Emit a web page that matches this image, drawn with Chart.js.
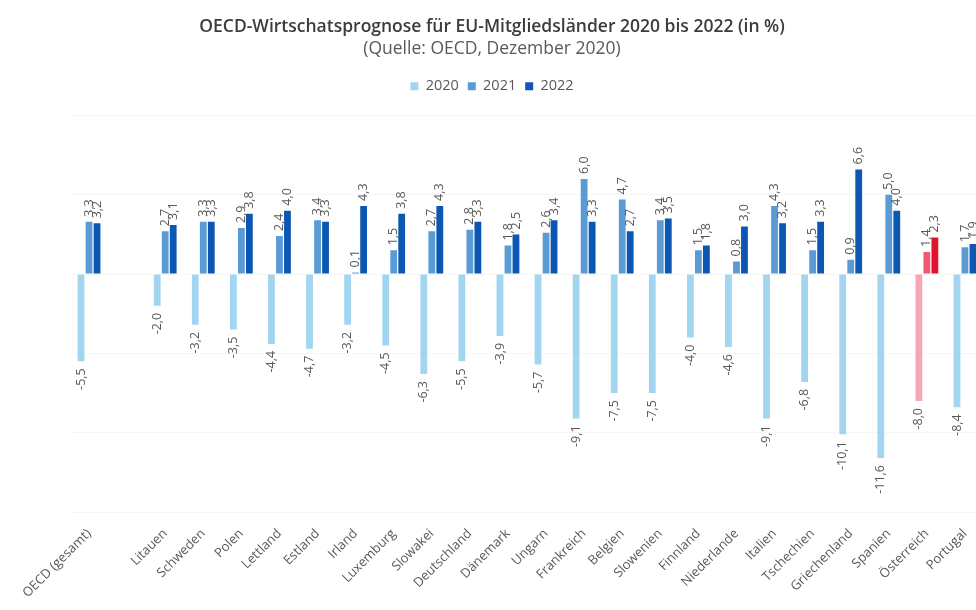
<!DOCTYPE html>
<html lang="de">
<head>
<meta charset="utf-8">
<title>OECD-Wirtschaftsprognose EU 2020-2022</title>
<script src="https://cdn.jsdelivr.net/npm/chart.js@4.4.1/dist/chart.umd.min.js"></script>
<style>
  html, body { margin: 0; padding: 0; background: #fff; overflow: hidden; }
  #wrap { width: 984px; height: 610px; }
</style>
</head>
<body>
<div id="wrap"><canvas id="chart"></canvas></div>
<script>
/* ── Data ── */
const COUNTRIES = [
  'OECD (gesamt)', '', 'Litauen', 'Schweden', 'Polen', 'Lettland', 'Estland',
  'Irland', 'Luxemburg', 'Slowakei', 'Deutschland', 'Dänemark', 'Ungarn',
  'Frankreich', 'Belgien', 'Slowenien', 'Finnland', 'Niederlande', 'Italien',
  'Tschechien', 'Griechenland', 'Spanien', 'Österreich', 'Portugal'
];
const GDP_2020 = [-5.5, null, -2.0, -3.2, -3.5, -4.4, -4.7, -3.2, -4.5, -6.3, -5.5, -3.9, -5.7,
  -9.1, -7.5, -7.5, -4.0, -4.6, -9.1, -6.8, -10.1, -11.6, -8.0, -8.4];
const GDP_2021 = [3.3, null, 2.7, 3.3, 2.9, 2.4, 3.4, 0.1, 1.5, 2.7, 2.8, 1.8, 2.6,
  6.0, 4.7, 3.4, 1.5, 0.8, 4.3, 1.5, 0.9, 5.0, 1.4, 1.7];
const GDP_2022 = [3.2, null, 3.1, 3.3, 3.8, 4.0, 3.3, 4.3, 3.8, 4.3, 3.3, 2.5, 3.4,
  3.3, 2.7, 3.5, 1.8, 3.0, 3.2, 3.3, 6.6, 4.0, 2.3, 1.9];
const YEARS = ['2020', '2021', '2022'];
const HIGHLIGHT = 'Österreich';

// blue palette, Austria drawn in red tones
const BLUES = ['#a2d5ef', '#5b9bd5', '#0b57b3'];
const REDS = ['#f6a7b6', '#f2586f', '#e2122e'];

const colorsFor = (k) => COUNTRIES.map(c => (c === HIGHLIGHT ? REDS[k] : BLUES[k]));

const FONT = '"Open Sans", "DejaVu Sans", sans-serif';
const TEXT = '#595959';

/* value labels, rotated 90°, German decimal comma */
const valueLabels = {
  id: 'valueLabels',
  afterDatasetsDraw(chart) {
    const { ctx } = chart;
    ctx.save();
    ctx.font = '12.5px ' + FONT;
    ctx.fillStyle = TEXT;
    ctx.textBaseline = 'middle';
    chart.data.datasets.forEach((ds, i) => {
      chart.getDatasetMeta(i).data.forEach((bar, j) => {
        const v = ds.data[j];
        if (v == null) return;
        const txt = v.toFixed(1).replace('.', ',');
        ctx.save();
        ctx.translate(bar.x, bar.y + (v < 0 ? 7 : -5));
        ctx.rotate(-Math.PI / 2);
        ctx.textAlign = v < 0 ? 'right' : 'left';
        ctx.fillText(txt, 0, 0);
        ctx.restore();
      });
    });
    ctx.restore();
  }
};

// extra room under the legend
const legendGap = {
  id: 'legendGap',
  beforeInit(chart) {
    const fit = chart.legend.fit;
    chart.legend.fit = function () {
      fit.bind(chart.legend)();
      this.height += 12;
    };
  }
};

new Chart(document.getElementById('chart'), {
  type: 'bar',
  data: {
    labels: COUNTRIES,
    datasets: [GDP_2020, GDP_2021, GDP_2022].map((data, k) => ({
      label: YEARS[k],
      data,
      backgroundColor: colorsFor(k),
      borderWidth: 0,
      categoryPercentage: 0.63,
      barPercentage: 0.85,
    })),
  },
  options: {
    responsive: true,
    maintainAspectRatio: false,
    animation: false,
    layout: { padding: 0 },
    plugins: {
      title: {
        display: true,
        text: 'OECD-Wirtschatsprognose für EU-Mitgliedsländer 2020 bis 2022 (in %)',
        color: '#3c3c3c',
        font: { family: FONT, size: 17.5, weight: '600' },
        padding: { top: 17, bottom: 1 },
      },
      subtitle: {
        display: true,
        text: '(Quelle: OECD, Dezember 2020)',
        color: TEXT,
        font: { family: FONT, size: 17.5 },
        padding: { top: 0, bottom: 10 },
      },
      legend: {
        display: true,
        position: 'top',
        labels: {
          color: TEXT,
          font: { family: FONT, size: 14.5 },
          boxWidth: 8,
          boxHeight: 8,
          padding: 9,
        },
      },
      tooltip: { enabled: false },
    },
    scales: {
      x: {
        grid: { display: false },
        border: { display: false },
        ticks: {
          color: TEXT,
          font: { family: FONT, size: 13 },
          minRotation: 45,
          maxRotation: 45,
          autoSkip: false,
          padding: 6,
        },
        afterFit(scale) { scale.height = 98; },
      },
      y: {
        min: -15,
        max: 10,
        ticks: { display: false, stepSize: 5 },
        grid: { color: 'rgba(0,0,0,0.035)', drawTicks: false },
        border: { display: false },
        afterFit(scale) { scale.width = 70; },
      },
    },
  },
  plugins: [valueLabels, legendGap],
});
</script>
</body>
</html>
